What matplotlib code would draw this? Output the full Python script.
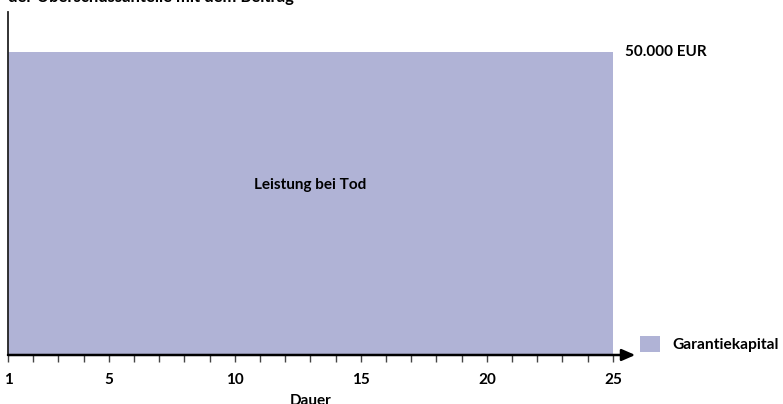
import matplotlib
matplotlib.use("Agg")
import matplotlib.pyplot as plt

# data
years = list(range(1, 26))
capital = [50000] * 25
major_ticks = [1, 5, 10, 15, 20, 25]
series_label = "Garantiekapital"
area_label = "Leistung bei Tod"
value_label = "50.000 EUR"
title = "der Überschussanteile mit dem Beitrag"

plt.rcParams['font.family'] = ['Lato', 'DejaVu Sans']
fill_col = "#b0b3d6"
axis_col = "#222222"

fig = plt.figure(figsize=(7.83, 4.04), dpi=100)
ax = fig.add_axes([0.0102, 0.1213, 0.7725, 0.8487])

ax.fill_between(years, 0, capital, color=fill_col, lw=0, label=series_label)
ax.set_xlim(1, 25)
ax.set_ylim(0, 56600)

for s in ["top", "right", "bottom"]:
    ax.spines[s].set_visible(False)
ax.spines["left"].set_color(axis_col)
ax.spines["left"].set_linewidth(1.3)
ax.set_yticks([])

ax.annotate("", xy=(1.037, 0), xytext=(0, 0), xycoords="axes fraction",
            arrowprops=dict(arrowstyle="-|>,head_length=0.8,head_width=0.35",
                            color="black", lw=1.8, shrinkA=0, shrinkB=0),
            annotation_clip=False)

ax.set_xticks(major_ticks)
ax.set_xticks(years, minor=True)
ax.tick_params(axis="x", which="both", direction="out", length=5, width=1,
               color="#444444", pad=8)
for lab in ax.get_xticklabels():
    lab.set_fontweight("bold")
    lab.set_fontsize(11)

ax.set_xlabel("Dauer", fontsize=11, fontweight="bold", labelpad=5)

ax.text(13, 28000, area_label, ha="center", va="center",
        fontsize=11, fontweight="bold")
ax.text(1.02, capital[-1], value_label, transform=ax.get_yaxis_transform(),
        ha="left", va="center", fontsize=11, fontweight="bold")

fig.legend(loc="lower left", bbox_to_anchor=(0.8, 0.093), frameon=False,
           handlelength=1.25, handleheight=1.25, handletextpad=0.8,
           prop=dict(size=11.2, weight="bold"))

fig.text(0.01, 1.01, title, ha="left", va="center", fontsize=12,
         fontweight="bold")

fig.savefig("out.png", dpi=100)
